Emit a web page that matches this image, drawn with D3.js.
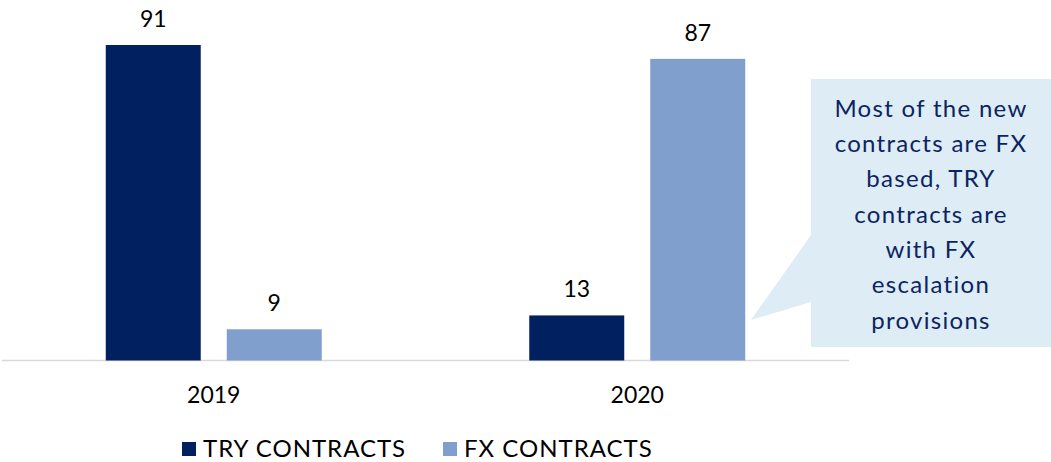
<!DOCTYPE html>
<html>
<head>
<meta charset="utf-8">
<script src="https://cdn.jsdelivr.net/npm/d3@7"></script>
<style>
  body { margin: 0; background: #fff; }
  text { font-family: Lato, "Open Sans", sans-serif; }
</style>
</head>
<body>
<script>
var w = 1051,
    h = 462;

var years = ['2019', '2020'];
var seriesNames = ['TRY CONTRACTS', 'FX CONTRACTS'];
var tryValues = [91, 13];
var fxValues = [9, 87];
var colors = ['#002060', '#819FCC'];
var calloutLines = ['Most of the new', 'contracts are FX', 'based, TRY',
                    'contracts are', 'with FX', 'escalation', 'provisions'];

var rows = years.map(function(y, i) {
  return {year: y, values: [tryValues[i], fxValues[i]]};
});

var x0 = d3.scaleBand()
          .domain(years)
          .range([2, 849])
          .paddingInner(0.49)
          .paddingOuter(0.245);

var x1 = d3.scaleBand()
          .domain(d3.range(seriesNames.length))
          .range([0, x0.bandwidth()])
          .paddingInner(0.215);

var y = d3.scaleLinear()
          .domain([0, 100])
          .range([360.5, 13.8]);

var svg = d3.select("body")
          .append("svg")
          .attr("width", w)
          .attr("height", h);

// callout box with pointer
var cx = 811, cy = 79, cw = 240, ch = 268;
svg.append('path')
   .attr('d', 'M' + cx + ',' + cy + 'H' + (cx + cw) + 'V' + (cy + ch) + 'H' + cx +
              'V302L751,320L' + cx + ',235Z')
   .attr('fill', '#DEECF5');

svg.append('text')
   .attr('text-anchor', 'middle')
   .attr('fill', '#0B2461')
   .style('font-size', '24px')
   .style('letter-spacing', '1.3px')
   .selectAll('tspan')
   .data(calloutLines)
   .enter().append('tspan')
   .attr('x', cx + cw / 2)
   .attr('y', function(d, i) { return 116.7 + i * 35.3; })
   .text(function(d) { return d; });

// baseline
svg.append('line')
   .attr('x1', 2).attr('x2', 849)
   .attr('y1', y(0)).attr('y2', y(0))
   .attr('stroke', '#D9D9D9')
   .attr('stroke-width', 1.5);

var groups = svg.selectAll('.grp')
          .data(rows)
          .enter().append('g')
          .attr('class', 'grp')
          .attr('transform', function(d) { return 'translate(' + x0(d.year) + ',0)'; });

groups.selectAll('rect')
      .data(function(d) { return d.values; })
      .enter().append('rect')
      .attr('x', function(d, i) { return x1(i); })
      .attr('width', x1.bandwidth())
      .attr('y', function(d) { return y(d); })
      .attr('height', function(d) { return y(0) - y(d); })
      .attr('fill', function(d, i) { return colors[i]; });

groups.selectAll('.val')
      .data(function(d) { return d.values; })
      .enter().append('text')
      .attr('class', 'val')
      .attr('x', function(d, i) { return x1(i) + x1.bandwidth() / 2; })
      .attr('y', function(d) { return y(d) - 18; })
      .attr('text-anchor', 'middle')
      .style('font-size', '23px')
      .attr('fill', '#000')
      .text(function(d) { return d; });

// category labels
svg.selectAll('.cat')
   .data(years)
   .enter().append('text')
   .attr('class', 'cat')
   .attr('x', function(d) { return x0(d) + x0.bandwidth() / 2; })
   .attr('y', 403)
   .attr('text-anchor', 'middle')
   .style('font-size', '23px')
   .attr('fill', '#000')
   .text(function(d) { return d; });

// legend
var legendX = [182, 443];
var legend = svg.selectAll('.leg')
          .data(seriesNames)
          .enter().append('g')
          .attr('class', 'leg')
          .attr('transform', function(d, i) { return 'translate(' + legendX[i] + ',442)'; });

legend.append('rect')
      .attr('width', 14)
      .attr('height', 14)
      .attr('fill', function(d, i) { return colors[i]; });

legend.append('text')
      .attr('x', 21)
      .attr('y', 14.5)
      .style('font-size', '24px')
      .style('letter-spacing', '1px')
      .attr('fill', '#000')
      .text(function(d) { return d; });
</script>
</body>
</html>
